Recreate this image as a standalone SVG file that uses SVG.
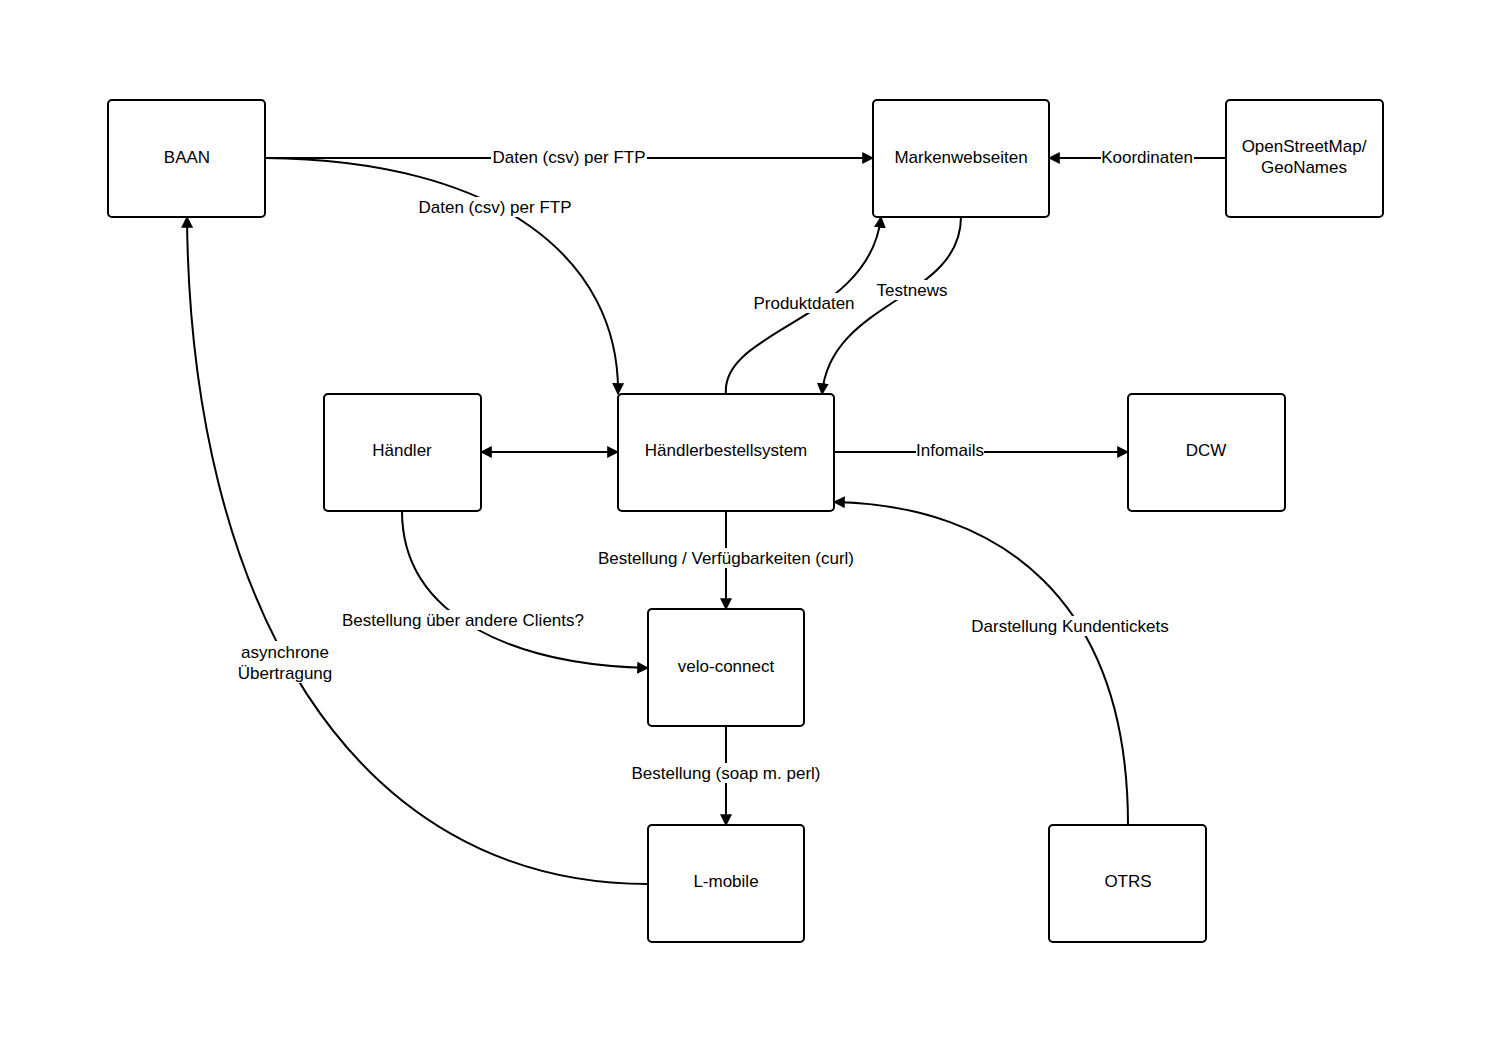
<svg xmlns="http://www.w3.org/2000/svg" width="1500" height="1042" viewBox="0 0 1500 1042">
<style>
.n{fill:#fff;stroke:#000;stroke-width:2}
text{font-family:"Liberation Sans",Arial,sans-serif;font-size:17px;fill:#000;text-anchor:middle;dominant-baseline:central}
.c{fill:none;stroke:#000;stroke-width:2}
.bg{fill:#fff}
</style>
<defs>
<marker id="a" viewBox="0 0 10 10" refX="9" refY="5" markerWidth="12" markerHeight="12" markerUnits="userSpaceOnUse" orient="auto-start-reverse"><path d="M0,0L10,5L0,10z"/></marker>
</defs>
<rect width="1500" height="1042" fill="#fff"/>
<g id="connectors">
<path class="c" d="M265,158H873" marker-end="url(#a)"/>
<path class="c" d="M265,158C500,160 620,260 618,394" marker-end="url(#a)"/>
<path class="c" d="M726,394C720,330 870,320 881,217" marker-end="url(#a)"/>
<path class="c" d="M961,217C961,300 830,300 822,394" marker-end="url(#a)"/>
<path class="c" d="M1226,158H1049" marker-end="url(#a)"/>
<path class="c" d="M481,452H618" marker-start="url(#a)" marker-end="url(#a)"/>
<path class="c" d="M834,452H1128" marker-end="url(#a)"/>
<path class="c" d="M726,511V609" marker-end="url(#a)"/>
<path class="c" d="M402,511C402,620 520,665 648,668" marker-end="url(#a)"/>
<path class="c" d="M726,726V825" marker-end="url(#a)"/>
<path class="c" d="M648,884C350,884 190,600 187,217" marker-end="url(#a)"/>
<path class="c" d="M1128,825C1128,600 1000,505 834,502" marker-end="url(#a)"/>
<rect class="bg" x="491" y="147" width="156" height="20"/><text x="569" y="157">Daten (csv) per FTP</text>
<rect class="bg" x="417" y="197" width="156" height="20"/><text x="495" y="207">Daten (csv) per FTP</text>
<rect class="bg" x="753" y="293" width="102" height="20"/><text x="804" y="303">Produktdaten</text>
<rect class="bg" x="876" y="280" width="72" height="20"/><text x="912" y="290">Testnews</text>
<rect class="bg" x="1101" y="147" width="93" height="20"/><text x="1147" y="157">Koordinaten</text>
<rect class="bg" x="916" y="440" width="68" height="20"/><text x="950" y="450">Infomails</text>
<rect class="bg" x="594" y="548" width="264" height="20"/><text x="726" y="558">Bestellung / Verfügbarkeiten (curl)</text>
<rect class="bg" x="339" y="610" width="248" height="20"/><text x="463" y="620">Bestellung über andere Clients?</text>
<rect class="bg" x="629" y="763" width="194" height="20"/><text x="726" y="773">Bestellung (soap m. perl)</text>
<rect class="bg" x="238" y="641" width="96" height="42"/><text x="285" y="652">asynchrone</text><text x="285" y="673">Übertragung</text>
<rect class="bg" x="968" y="616" width="204" height="20"/><text x="1070" y="626">Darstellung Kundentickets</text>
</g>
<g id="baan"><rect class="n" x="108" y="100" width="157" height="117" rx="4"/><text x="187" y="157">BAAN</text></g>
<g id="marken"><rect class="n" x="873" y="100" width="176" height="117" rx="4"/><text x="961" y="157">Markenwebseiten</text></g>
<g id="osm"><rect class="n" x="1226" y="100" width="157" height="117" rx="4"/><text x="1304" y="146">OpenStreetMap/</text><text x="1304" y="167">GeoNames</text></g>
<g id="haendler"><rect class="n" x="324" y="394" width="157" height="117" rx="4"/><text x="402" y="450">Händler</text></g>
<g id="hbs"><rect class="n" x="618" y="394" width="216" height="117" rx="4"/><text x="726" y="450">Händlerbestellsystem</text></g>
<g id="dcw"><rect class="n" x="1128" y="394" width="157" height="117" rx="4"/><text x="1206" y="450">DCW</text></g>
<g id="velo"><rect class="n" x="648" y="609" width="156" height="117" rx="4"/><text x="726" y="666">velo-connect</text></g>
<g id="lmobile"><rect class="n" x="648" y="825" width="156" height="117" rx="4"/><text x="726" y="881">L-mobile</text></g>
<g id="otrs"><rect class="n" x="1049" y="825" width="157" height="117" rx="4"/><text x="1128" y="881">OTRS</text></g>
</svg>
